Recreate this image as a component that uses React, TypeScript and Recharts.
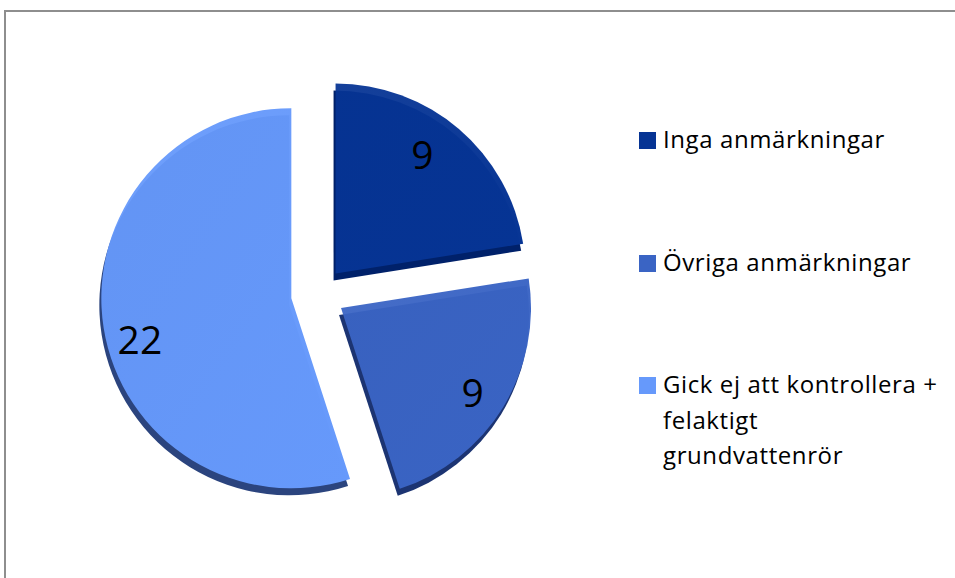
import { PieChart, Pie, Sector, Cell, Legend } from 'recharts';

const CATEGORIES = [
  'Inga anmärkningar',
  'Övriga anmärkningar',
  'Gick ej att kontrollera + felaktigt grundvattenrör',
];
const COUNTS = [9, 9, 22];

const COLORS = ['#063494', '#3a64c4', '#6699fb'];
const SIDE_COLORS = ['#00216a', '#1c3472', '#2b447e'];
// label distance from the slice tip (share of radius) and small turn in degrees
const LABEL_RADIUS = [0.78, 0.82, 0.825];
const LABEL_TURN = [-4.6, 0.9, -6];

const RADIAN = Math.PI / 180;
// how far each slice is pulled out from the centre
const EXPLODE = 27;

const data = CATEGORIES.map((name, i) => ({ name, value: COUNTS[i] }));

const shift = (angle: number, d: number) => ({
  dx: d * Math.cos(-angle * RADIAN),
  dy: d * Math.sin(-angle * RADIAN),
});

const ExplodedSlice = (props: any) => {
  const { cx, cy, midAngle, innerRadius, outerRadius, startAngle, endAngle, fill, index } = props;
  const { dx, dy } = shift(midAngle, EXPLODE);
  const i = index ?? COLORS.indexOf(fill);
  const gid = `slice-grad-${i}`;
  return (
    <g>
      <defs>
        <linearGradient id={gid} x1="0" y1="0" x2="1" y2="1">
          <stop offset="0%" stopColor={fill} stopOpacity={0.94} />
          <stop offset="100%" stopColor={fill} stopOpacity={1} />
        </linearGradient>
      </defs>
      <Sector
        cx={cx + dx - 2}
        cy={cy + dy + 7}
        innerRadius={innerRadius}
        outerRadius={outerRadius}
        startAngle={startAngle}
        endAngle={endAngle}
        fill={SIDE_COLORS[i] ?? '#223'}
        stroke="none"
      />
      <Sector
        cx={cx + dx}
        cy={cy + dy}
        innerRadius={innerRadius}
        outerRadius={outerRadius}
        startAngle={startAngle}
        endAngle={endAngle}
        fill={`url(#${gid})`}
        stroke="none"
      />
    </g>
  );
};

const renderValue = (props: any) => {
  const { cx, cy, midAngle, outerRadius, value, index } = props;
  const c = shift(midAngle, EXPLODE);
  const p = shift(midAngle - (LABEL_TURN[index] ?? 0), outerRadius * (LABEL_RADIUS[index] ?? 0.82));
  return (
    <text
      x={cx + c.dx + p.dx}
      y={cy + c.dy + p.dy}
      textAnchor="middle"
      dominantBaseline="central"
      fontFamily="'Open Sans', sans-serif"
      fontSize={39}
      fill="#000"
    >
      {value}
    </text>
  );
};

const renderLegend = (props: any) => {
  const payload = [...(props.payload ?? [])].sort(
    (a: any, b: any) => CATEGORIES.indexOf(a.value) - CATEGORIES.indexOf(b.value)
  );
  return (
    <div style={{ fontFamily: "'Open Sans', sans-serif", fontSize: 24, letterSpacing: 0.6, color: '#000' }}>
      {payload.map((entry: any, i: number) => (
        <div
          key={`legend-${i}`}
          style={{ display: 'flex', alignItems: 'flex-start', marginBottom: 87, lineHeight: '35.5px' }}
        >
          <span
            style={{
              display: 'inline-block',
              width: 17,
              height: 17,
              marginTop: 11,
              marginRight: 7,
              flex: '0 0 auto',
              background: entry.color,
            }}
          />
          <span style={{ width: 277 }}>{entry.value}</span>
        </div>
      ))}
    </div>
  );
};

export default function App() {
  return (
    <div style={{ position: 'absolute', left: 0, top: 0, width: 955, height: 578, background: '#fff' }}>
      <div
        style={{
          position: 'absolute',
          left: 4,
          top: 10,
          right: 0,
          bottom: 0,
          borderLeft: '2px solid #8e8e8e',
          borderTop: '2px solid #8e8e8e',
        }}
      />
      <div style={{ position: 'absolute', left: 0, top: 0 }}>
        <PieChart width={955} height={578} margin={{ top: 0, right: 0, bottom: 0, left: 0 }}>
          <Pie
            data={data}
            dataKey="value"
            nameKey="name"
            cx={318}
            cy={294}
            outerRadius={190}
            startAngle={90}
            endAngle={-270}
            shape={ExplodedSlice}
            activeShape={ExplodedSlice}
            inactiveShape={ExplodedSlice}
            label={renderValue}
            labelLine={false}
            isAnimationActive={false}
          >
            {data.map((entry, i) => (
              <Cell key={`cell-${entry.name}`} fill={COLORS[i]} />
            ))}
          </Pie>
          <Legend
            layout="vertical"
            content={renderLegend}
            wrapperStyle={{ position: 'absolute', left: 639, top: 121, width: 310 }}
          />
        </PieChart>
      </div>
    </div>
  );
}
